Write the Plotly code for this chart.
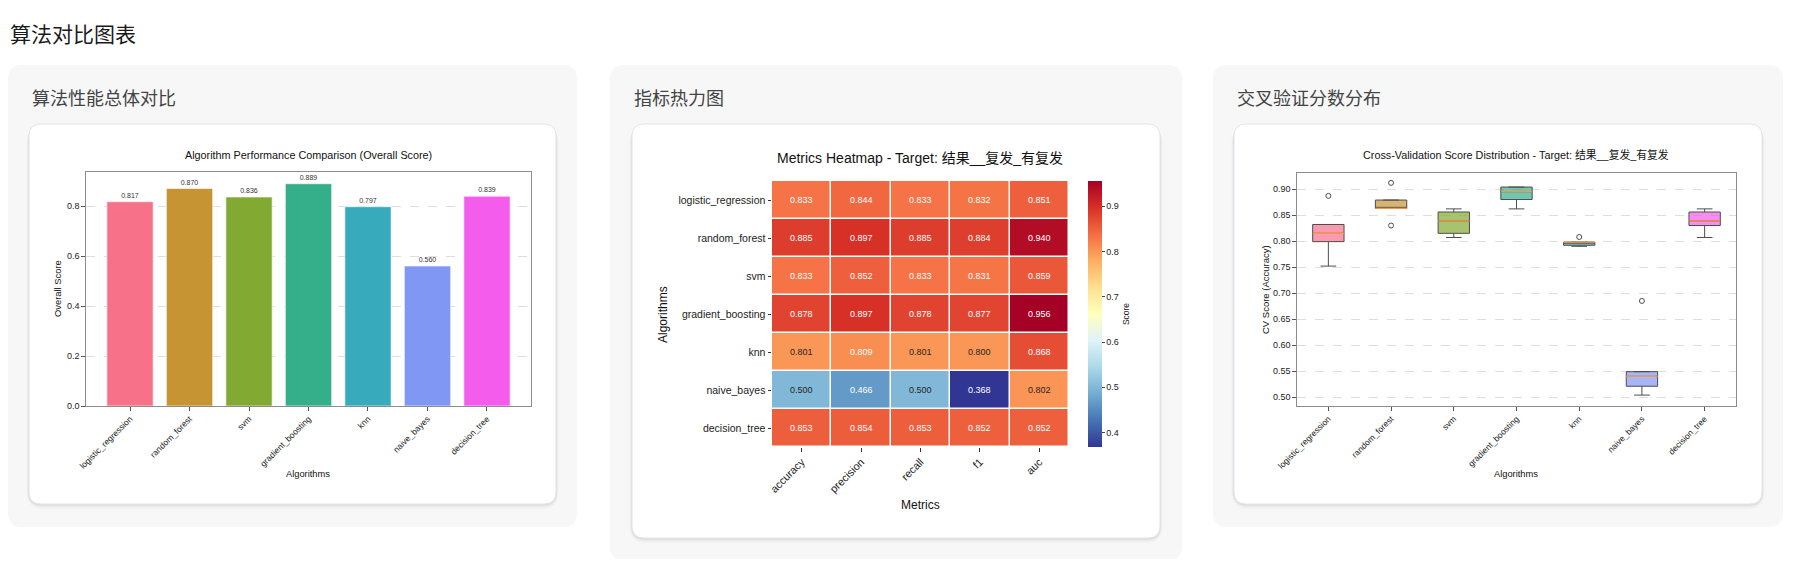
import numpy as np
import plotly.graph_objects as go

# page is 1800x567, the html body keeps its 8px margin, so the figure is a bit smaller
PAGE_W, PAGE_H, M = 1800, 567, 8
W, H = PAGE_W - 2 * M, PAGE_H - 2 * M

page_title = "算法对比图表"
card_titles = ["算法性能总体对比", "指标热力图", "交叉验证分数分布"]

algorithms = ["logistic_regression", "random_forest", "svm", "gradient_boosting",
              "knn", "naive_bayes", "decision_tree"]
overall_score = [0.817, 0.870, 0.836, 0.889, 0.797, 0.560, 0.839]

metrics = ["accuracy", "precision", "recall", "f1", "auc"]
accuracy = [0.833, 0.885, 0.833, 0.878, 0.801, 0.500, 0.853]
precision = [0.844, 0.897, 0.852, 0.897, 0.809, 0.466, 0.854]
recall = [0.833, 0.885, 0.833, 0.878, 0.801, 0.500, 0.853]
f1 = [0.832, 0.884, 0.831, 0.877, 0.800, 0.368, 0.852]
auc = [0.851, 0.940, 0.859, 0.956, 0.868, 0.802, 0.852]

# 5-fold cv accuracy per algorithm
cv_logistic_regression = [0.752, 0.799, 0.815, 0.832, 0.887]
cv_random_forest = [0.830, 0.863, 0.863, 0.879, 0.912]
cv_svm = [0.807, 0.815, 0.839, 0.856, 0.862]
cv_gradient_boosting = [0.862, 0.880, 0.895, 0.904, 0.904]
cv_knn = [0.790, 0.792, 0.798, 0.798, 0.808]
cv_naive_bayes = [0.504, 0.521, 0.540, 0.549, 0.685]
cv_decision_tree = [0.807, 0.830, 0.839, 0.856, 0.862]

cv_scores = [cv_logistic_regression, cv_random_forest, cv_svm, cv_gradient_boosting,
             cv_knn, cv_naive_bayes, cv_decision_tree]

palette = ["#f77189", "#c69432", "#82a931", "#34af8a", "#37aabb", "#8197f4", "#f45deb"]

FONT = "Liberation Sans, Arial, Noto Sans CJK SC, sans-serif"
CJK = "Noto Sans CJK SC, sans-serif"


# page pixel -> paper coords
def px(x):
    return (x - M) / W


def py(y):
    return 1 - (y - M) / H


def rgba(h, a):
    return "rgba(%d,%d,%d,%s)" % (int(h[1:3], 16), int(h[3:5], 16), int(h[5:7], 16), a)


def round_rect(x0, y0, x1, y1, r):
    rx, ry = r / W, r / H
    a, b, c, d = px(x0), px(x1), py(y0), py(y1)
    return (f"M{a+rx},{c} L{b-rx},{c} Q{b},{c} {b},{c-ry} L{b},{d+ry} Q{b},{d} {b-rx},{d} "
            f"L{a+rx},{d} Q{a},{d} {a},{d+ry} L{a},{c-ry} Q{a},{c} {a+rx},{c} Z")


fig = go.Figure()

# ---- bar chart: overall score
fig.add_trace(go.Bar(
    x=algorithms, y=overall_score, width=0.78,
    marker=dict(color=palette, line=dict(color="rgba(255,255,255,0.6)", width=1.2)),
    text=["%.3f" % v for v in overall_score], textposition="outside",
    textfont=dict(size=7, color="#333", family=FONT), cliponaxis=False,
    xaxis="x", yaxis="y", showlegend=False,
))

# ---- heatmap
z = np.array([accuracy, precision, recall, f1, auc]).T
rdylbu_r = ["#313695", "#4575b4", "#74add1", "#abd9e9", "#e0f3f8", "#ffffbf",
            "#fee090", "#fdae61", "#f46d43", "#d73027", "#a50026"]
stops = np.linspace(0, 1, len(rdylbu_r))
fig.add_trace(go.Heatmap(
    z=z, x=metrics, y=algorithms, xgap=1.5, ygap=1.5,
    colorscale=[[s, c] for s, c in zip(stops, rdylbu_r)],
    zmin=z.min(), zmax=z.max(),
    colorbar=dict(x=px(1088), xanchor="left", y=py(314), yanchor="middle",
                  len=266 / H, thickness=14, xpad=0, ypad=0, outlinewidth=0,
                  tickvals=[0.4, 0.5, 0.6, 0.7, 0.8, 0.9], tickformat=".1f",
                  ticks="outside", ticklen=3, tickfont=dict(size=9, color="#222", family=FONT),
                  title=dict(text="Score", side="right", font=dict(size=8.5, color="#222", family=FONT))),
    xaxis="x2", yaxis="y2", hoverinfo="skip",
))

rgb = np.array([[int(c[i:i + 2], 16) / 255 for i in (1, 3, 5)] for c in rdylbu_r])


def text_color(v):
    # dark text on light cells, like seaborn's annot
    t = (v - z.min()) / (z.max() - z.min())
    c = np.array([np.interp(t, stops, rgb[:, k]) for k in range(3)])
    lin = np.where(c <= 0.03928, c / 12.92, ((c + 0.055) / 1.055) ** 2.4)
    return "#262626" if lin @ [0.2126, 0.7152, 0.0722] > 0.408 else "#ffffff"


annotations = []
for i, algo in enumerate(algorithms):
    for j, m in enumerate(metrics):
        annotations.append(dict(x=m, y=algo, xref="x2", yref="y2", text="%.3f" % z[i, j],
                                showarrow=False, font=dict(size=9, color=text_color(z[i, j]), family=FONT)))

# ---- box plot: cv scores
for i, vals in enumerate(cv_scores):
    fig.add_trace(go.Box(
        x=[i] * len(vals), y=vals, width=0.5, whiskerwidth=0.5,
        quartilemethod="inclusive", boxpoints="outliers", jitter=0, pointpos=0,
        fillcolor=rgba(palette[i], 0.7), line=dict(color="#4d4d4d", width=1),
        marker=dict(symbol="circle-open", size=5, color="#4d4d4d", line=dict(width=1)),
        xaxis="x3", yaxis="y3", showlegend=False, name=algorithms[i],
    ))
mx, my = [], []
for i, vals in enumerate(cv_scores):
    med = float(np.median(vals))
    mx += [i - 0.25, i + 0.25, None]
    my += [med, med, None]
fig.add_trace(go.Scatter(x=mx, y=my, mode="lines", line=dict(color="#f5974a", width=1.3),
                         xaxis="x3", yaxis="y3", showlegend=False, hoverinfo="skip"))

# ---- page decoration
shapes = []
cards = [(8, 65, 577, 527), (610, 65, 1182, 560), (1213, 65, 1783, 527)]
inner = [(29, 124, 556, 504), (632, 124, 1160, 538), (1234, 124, 1762, 504)]
for (x0, y0, x1, y1) in cards:
    shapes.append(dict(type="path", path=round_rect(x0, y0, x1, y1, 14), xref="paper", yref="paper",
                       fillcolor="#f7f7f8", line=dict(width=0), layer="below"))
for (x0, y0, x1, y1) in inner:
    for k, a in [(5, 0.025), (3, 0.035), (1.5, 0.045)]:
        shapes.append(dict(type="path", path=round_rect(x0 - k / 2, y0 + k / 2, x1 + k / 2, y1 + k, 12 + k),
                           xref="paper", yref="paper", fillcolor="rgba(0,0,0,%s)" % a,
                           line=dict(width=0), layer="below"))
    shapes.append(dict(type="path", path=round_rect(x0, y0, x1, y1, 12), xref="paper", yref="paper",
                       fillcolor="white", line=dict(color="#e4e4ea", width=1), layer="below"))

annotations.append(dict(x=px(8), y=py(33), xref="paper", yref="paper", xanchor="left", yanchor="middle",
                        text=page_title, showarrow=False, font=dict(size=21, color="#1a1a1a", family=CJK)))
for (x0, y0, x1, y1), t in zip(cards, card_titles):
    annotations.append(dict(x=px(x0 + 22), y=py(97), xref="paper", yref="paper", xanchor="left",
                            yanchor="middle", text=t, showarrow=False,
                            font=dict(size=18, color="#444", family=CJK)))

chart_texts = [
    ("Algorithm Performance Comparison (Overall Score)", 308, 155, 10.8, 0),
    ("Algorithms", 308, 474, 9.3, 0),
    ("Overall Score", 57, 289, 9.4, -90),
    ("Metrics Heatmap - Target: 结果__复发_有复发", 920, 158, 14, 0),
    ("Metrics", 920, 505, 12, 0),
    ("Algorithms", 663, 315, 12, -90),
    ("Cross-Validation Score Distribution - Target: 结果__复发_有复发", 1516, 155, 10.8, 0),
    ("Algorithms", 1516, 474, 9.3, 0),
    ("CV Score (Accuracy)", 1265, 290, 9.5, -90),
]
for t, x, y, s, ang in chart_texts:
    annotations.append(dict(x=px(x), y=py(y), xref="paper", yref="paper", xanchor="center",
                            yanchor="middle", text=t, showarrow=False, textangle=ang,
                            font=dict(size=s, color="#111", family=FONT)))

frame = dict(showline=True, mirror=True, linecolor="#8c8c8c", linewidth=1.2,
             ticks="outside", ticklen=3.5, tickcolor="#555", automargin=False)
grid = dict(showgrid=True, gridcolor="#dedede", griddash="dash", gridwidth=0.8, zeroline=False)

fig.update_layout(
    width=W, height=H, margin=dict(l=0, r=0, t=0, b=0),
    paper_bgcolor="white", plot_bgcolor="white",
    font=dict(family=FONT, color="#222"),
    shapes=shapes, annotations=annotations,
    xaxis=dict(domain=[px(86), px(531)], range=[-0.74, 6.74], tickangle=-45,
               tickfont=dict(size=8.5), showgrid=False, **frame),
    yaxis=dict(domain=[py(406), py(172)], range=[0, 0.936], tickvals=[0, 0.2, 0.4, 0.6, 0.8],
               tickformat=".1f", tickfont=dict(size=9), **grid, **frame),
    xaxis2=dict(domain=[px(772), px(1069)], anchor="y2", tickangle=-45, tickfont=dict(size=10.8),
                ticks="outside", ticklen=3.5, tickcolor="#333", showgrid=False, automargin=False),
    yaxis2=dict(domain=[py(447), py(181)], anchor="x2", autorange="reversed", tickfont=dict(size=10.5),
                ticks="outside", ticklen=3.5, tickcolor="#333", showgrid=False, automargin=False),
    xaxis3=dict(domain=[px(1297), px(1736)], anchor="y3", range=[-0.5, 6.5],
                tickvals=list(range(len(algorithms))), ticktext=algorithms, tickangle=-45,
                tickfont=dict(size=8.5), showgrid=False, zeroline=False, **frame),
    yaxis3=dict(domain=[py(406), py(173)], anchor="x3", range=[0.483, 0.931], tick0=0.5, dtick=0.05,
                tickformat=".2f", tickfont=dict(size=9), **grid, **frame),
)

fig.write_html("out.html")
